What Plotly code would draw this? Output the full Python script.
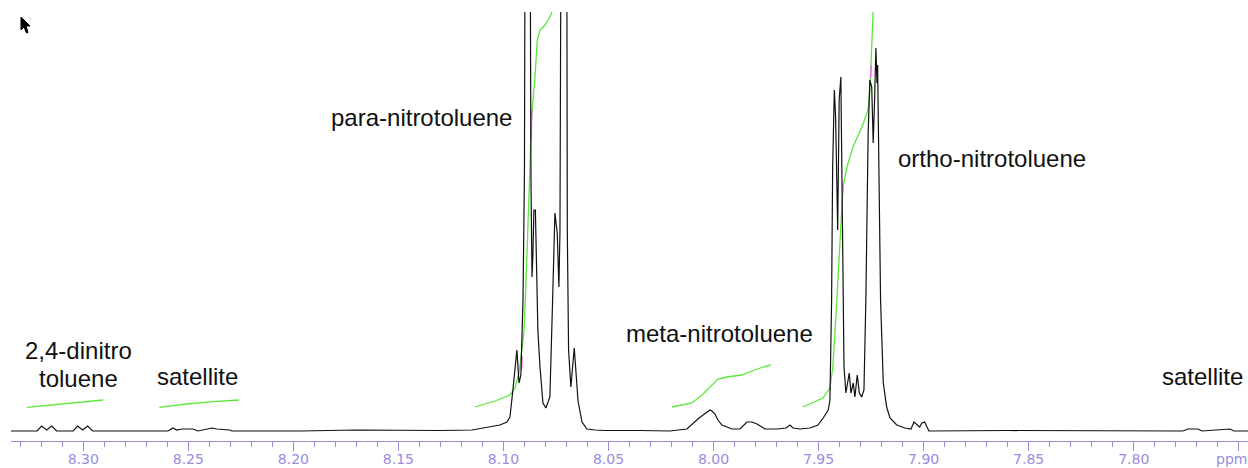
import plotly.graph_objects as go

# ---------------- data ----------------
# 1H NMR trace: chemical shift (ppm) and relative intensity (baseline = 0)
spec_ppm = [8.3344, 8.3220, 8.3198, 8.3174, 8.3150, 8.3127, 8.3048, 8.3027, 8.3003, 8.2979,
            8.2955, 8.2597, 8.2573, 8.2555, 8.2530, 8.2478, 8.2454, 8.2430, 8.2387, 8.2364,
            8.2302, 8.2292, 8.1969, 8.1697, 8.1493, 8.1302, 8.1150, 8.1079, 8.1017, 8.0983,
            8.0969, 8.0955, 8.0945, 8.0936, 8.0926, 8.0917, 8.0907, 8.0900, 8.0895, 8.0876,
            8.0869, 8.0864, 8.0860, 8.0855, 8.0848, 8.0843, 8.0836, 8.0826, 8.0812, 8.0798,
            8.0779, 8.0766, 8.0755, 8.0744, 8.0736, 8.0731, 8.0723, 8.0700, 8.0696, 8.0690,
            8.0679, 8.0663, 8.0652, 8.0645, 8.0626, 8.0603, 8.0564, 8.0517, 8.0350, 8.0208,
            8.0127, 8.0098, 8.0074, 8.0050, 8.0027, 8.0017, 8.0008, 7.9993, 7.9979, 7.9960,
            7.9936, 7.9912, 7.9874, 7.9855, 7.9841, 7.9817, 7.9793, 7.9770, 7.9755, 7.9698,
            7.9655, 7.9636, 7.9622, 7.9589, 7.9541, 7.9503, 7.9478, 7.9454, 7.9446, 7.9438,
            7.9433, 7.9425, 7.9419, 7.9409, 7.9402, 7.9394, 7.9387, 7.9379, 7.9370, 7.9354,
            7.9346, 7.9335, 7.9327, 7.9316, 7.9306, 7.9295, 7.9284, 7.9275, 7.9264, 7.9256,
            7.9247, 7.9240, 7.9233, 7.9227, 7.9222, 7.9219, 7.9211, 7.9205, 7.9192, 7.9176,
            7.9160, 7.9128, 7.9089, 7.9060, 7.9046, 7.9032, 7.9019, 7.9008, 7.8995, 7.8975,
            7.8599, 7.7766, 7.7742, 7.7718, 7.7694, 7.7675, 7.7609, 7.7580, 7.7542, 7.7523,
            7.7456]
spec_int = [0, 0, 5, 1, 5, 0, 0, 5, 1, 5,
            0, 0, 3, 1, 2, 2, 0, 1, 3, 2,
            1, 0, 0, 1, 0.5, 0.5, 1, 4, 6, 9,
            14, 41, 66, 81, 48, 56, 131, 260, 700, 700,
            250, 154, 175, 221, 221, 160, 100, 64, 28, 23,
            34, 131, 218, 198, 144, 200, 700, 700, 200, 81,
            44, 83, 45, 30, 9, 2, 1, 0.5, 0.5, 0,
            2, 8, 12, 16, 19, 21, 20, 17, 11, 6,
            4, 2, 2, 6, 9, 9, 7, 4, 2, 2,
            3, 6, 3, 2, 3, 6, 13, 21, 31, 131,
            264, 341, 314, 201, 331, 354, 231, 64, 38, 58,
            38, 48, 34, 56, 38, 34, 41, 131, 298, 351,
            344, 288, 334, 383, 348, 366, 231, 131, 48, 24,
            13, 6, 3, 2, 9, 6, 4, 8, 9, 0,
            0.5, 0, 2, 2, 2, 0, 1, 2, 2, 0,
            0]

# integral curves (green)
int_dinitro_ppm = [8.3269, 8.3158, 8.3071, 8.2984, 8.2905]
int_dinitro_val = [23.7, 26, 27.7, 29.3, 31]
int_satL_ppm = [8.2638, 8.2508, 8.2381, 8.2258]
int_satL_val = [23.7, 27, 29.3, 31]
int_para_ppm = [8.1136, 8.1040, 8.0969, 8.0945, 8.0926, 8.0912, 8.0902, 8.0890, 8.0874,
                8.0866, 8.0850, 8.0839, 8.0826, 8.0802, 8.0779, 8.0762]
int_para_val = [24, 30, 36, 43, 58, 80, 100, 164, 264, 314, 354, 391, 401, 406, 414, 423]
int_meta_ppm = [8.0198, 8.0103, 8.0055, 8.0017, 7.9979, 7.9936, 7.9865, 7.9817, 7.9765, 7.9727]
int_meta_val = [24, 28, 36, 44, 52, 54, 56, 60, 64, 66]
int_ortho_ppm = [7.9575, 7.9479, 7.9446, 7.9432, 7.9413, 7.9394, 7.9384, 7.9365, 7.9336,
                 7.9294, 7.9265, 7.9256, 7.9251, 7.9246, 7.9241, 7.9239]
int_ortho_val = [24, 33, 43, 64, 131, 198, 244, 264, 284, 304, 321, 338, 364, 388, 418, 426]

# magenta integral-marker segments (pairs separated by None)
mark_ppm = [8.0914, 8.0911, None, 8.0868, 8.0865, None, 7.9446, 7.9445, None,
            7.9385, 7.9383, None, 7.9252, 7.9250]
mark_val = [61, 75, None, 291, 321, None, 41, 44, None, 238, 248, None, 353, 366]

# labels
label_text = ["para-nitrotoluene", "ortho-nitrotoluene", "meta-nitrotoluene",
              "2,4-dinitro", "toluene", "satellite", "satellite"]
label_ppm = [8.1388, 7.8675, 7.9974, 8.3023, 8.3023, 8.2456, 7.7671]
label_int = [314, 273, 98, 81, 53, 55, 55]
axis_unit = "ppm"

# ---------------- styles ----------------
AXIS_COLOR = "#9a8ce0"
GREEN = "#5ae83a"
PINK = "#ff66ff"

fig = go.Figure()
integrals = [(int_dinitro_ppm, int_dinitro_val), (int_satL_ppm, int_satL_val),
             (int_para_ppm, int_para_val), (int_meta_ppm, int_meta_val),
             (int_ortho_ppm, int_ortho_val)]
for xs, ys in integrals:
    fig.add_trace(go.Scatter(x=xs, y=ys, mode="lines",
                             line=dict(color=GREEN, width=1.3), hoverinfo="skip"))
fig.add_trace(go.Scatter(x=mark_ppm, y=mark_val, mode="lines",
                         line=dict(color=PINK, width=1.5), hoverinfo="skip"))
fig.add_trace(go.Scatter(x=spec_ppm, y=spec_int, mode="lines",
                         line=dict(color="#111111", width=1.2), hoverinfo="skip"))

for t, x, y in zip(label_text, label_ppm, label_int):
    fig.add_annotation(x=x, y=y, xref="x", yref="y", text=t, showarrow=False,
                       xanchor="center", yanchor="middle", borderpad=0,
                       font=dict(family="Liberation Sans, Arial, sans-serif", size=24, color="#111111"))

# axis unit at the right end of the scale
fig.add_annotation(x=1, y=0, xref="paper", yref="paper", text=axis_unit, showarrow=False,
                   xanchor="right", yanchor="middle", yshift=-18, borderpad=0,
                   font=dict(family="DejaVu Sans, sans-serif", size=14, color=AXIS_COLOR))

# mouse cursor (decoration)
fig.add_shape(type="path", xref="paper", yref="paper", xsizemode="pixel", ysizemode="pixel",
              xanchor=0, yanchor=1,
              path="M 10,-5 L 10,-18 L 13,-15 L 15.5,-21 L 17,-20.5 L 15,-14 L 19,-14 Z",
              fillcolor="#000000", line=dict(color="#000000", width=1))

fig.update_layout(
    width=1248, height=468,
    margin=dict(l=11, r=0, t=12, b=27, autoexpand=False),
    paper_bgcolor="white", plot_bgcolor="white",
    showlegend=False,
    xaxis=dict(range=[8.3344, 7.7456], showgrid=False, zeroline=False, automargin=False,
               showline=True, linecolor=AXIS_COLOR, linewidth=1,
               ticks="outside", ticklen=9, tickwidth=1, tickcolor=AXIS_COLOR,
               tick0=8.30, dtick=0.05, tickformat=".2f",
               labelalias={"7.75": " "}, ticklabeloverflow="allow",
               ticklabelstandoff=-4,
               tickfont=dict(family="DejaVu Sans, sans-serif", size=14, color=AXIS_COLOR),
               minor=dict(dtick=0.01, tick0=8.30, ticks="outside", ticklen=5,
                          tickwidth=1, tickcolor=AXIS_COLOR, showgrid=False)),
    yaxis=dict(range=[-10, 419], visible=False),
)

fig.write_html("out.html")
